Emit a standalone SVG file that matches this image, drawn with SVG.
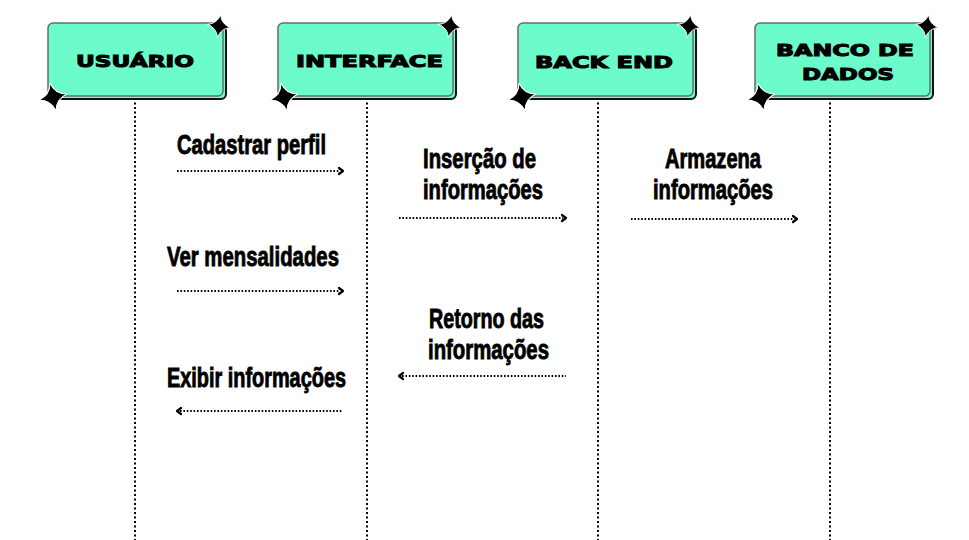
<svg xmlns="http://www.w3.org/2000/svg" width="969" height="540" viewBox="0 0 969 540">
<style>
.bg{fill:#6cfccb;stroke:#111;stroke-width:2}
.fr{fill:#6cfccb;stroke:#6a6a6a;stroke-width:1.5}
.star{fill:#000;stroke:#fff;stroke-width:1}
.nt{font-family:"DejaVu Sans",sans-serif;font-weight:bold;font-size:15.5px;fill:#000;stroke:#000;stroke-width:1;text-anchor:middle}
.ml{font-family:"Liberation Sans",sans-serif;font-weight:bold;font-size:28px;fill:#000;stroke:#000;stroke-width:0.9}
.life{stroke:#000;stroke-width:2;stroke-dasharray:2 2.5;fill:none}
.msg{stroke:#000;stroke-width:2;stroke-dasharray:1.6 1.8;fill:none}
.head{stroke:#000;stroke-width:2.2;fill:none;stroke-linecap:round;stroke-linejoin:round}
</style>
<defs>
<path id="s" d="M0,-13 C1.5,-6 6,-1.5 13,0 C6,1.5 1.5,6 0,13 C-1.5,6 -6,1.5 -13,0 C-6,-1.5 -1.5,-6 0,-13Z"/>
</defs>
<rect width="969" height="540" fill="#fff"/>
<g id="connectors">
<line class="life" x1="135" y1="98" x2="135" y2="540"/>
<line class="life" x1="367" y1="98" x2="367" y2="540"/>
<line class="life" x1="598" y1="98" x2="598" y2="540"/>
<line class="life" x1="830" y1="98" x2="830" y2="540"/>
<line class="msg" x1="177" y1="171" x2="340" y2="171"/><path class="head" d="M339,168 L343,171 L339,174"/>
<line class="msg" x1="177" y1="291" x2="340" y2="291"/><path class="head" d="M339,288 L343,291 L339,294"/>
<line class="msg" x1="180" y1="411" x2="343" y2="411"/><path class="head" d="M181,408 L177,411 L181,414"/>
<line class="msg" x1="399" y1="218" x2="563" y2="218"/><path class="head" d="M562,215 L566,218 L562,221"/>
<line class="msg" x1="631" y1="219" x2="794" y2="219"/><path class="head" d="M793,216 L797,219 L793,222"/>
<line class="msg" x1="402" y1="376" x2="566" y2="376"/><path class="head" d="M403,373 L399,376 L403,379"/>
</g>
<g id="usuario">
<rect class="bg" x="51" y="26" width="175" height="73" rx="5"/>
<rect class="fr" x="48" y="23" width="175" height="73" rx="5"/>
<use href="#s" class="star" transform="translate(219,26) rotate(8) scale(0.9)"/>
<use href="#s" class="star" transform="translate(53,97) rotate(-12) scale(1.1)"/>
<text class="nt" x="135" y="67" textLength="118" lengthAdjust="spacingAndGlyphs">USUÁRIO</text>
</g>
<g id="interface">
<rect class="bg" x="281" y="26" width="175" height="73" rx="5"/>
<rect class="fr" x="278" y="23" width="175" height="73" rx="5"/>
<use href="#s" class="star" transform="translate(450,26) rotate(8) scale(0.9)"/>
<use href="#s" class="star" transform="translate(284,97) rotate(-12) scale(1.1)"/>
<text class="nt" x="369.5" y="67" textLength="147" lengthAdjust="spacingAndGlyphs">INTERFACE</text>
</g>
<g id="backend">
<rect class="bg" x="521" y="26" width="175" height="73" rx="5"/>
<rect class="fr" x="518" y="23" width="175" height="73" rx="5"/>
<use href="#s" class="star" transform="translate(689,26) rotate(8) scale(0.9)"/>
<use href="#s" class="star" transform="translate(522,97) rotate(-12) scale(1.1)"/>
<text class="nt" x="604" y="67.5" textLength="138" lengthAdjust="spacingAndGlyphs">BACK END</text>
</g>
<g id="banco">
<rect class="bg" x="758" y="26" width="175" height="73" rx="5"/>
<rect class="fr" x="755" y="23" width="175" height="73" rx="5"/>
<use href="#s" class="star" transform="translate(927,26) rotate(8) scale(0.9)"/>
<use href="#s" class="star" transform="translate(761,97) rotate(-12) scale(1.1)"/>
<text class="nt" x="845" y="56" textLength="138" lengthAdjust="spacingAndGlyphs">BANCO DE</text>
<text class="nt" x="848" y="80" textLength="92" lengthAdjust="spacingAndGlyphs">DADOS</text>
</g>
<g id="labels">
<text class="ml" x="177" y="154" textLength="149" lengthAdjust="spacingAndGlyphs">Cadastrar perfil</text>
<text class="ml" x="167" y="266" textLength="172" lengthAdjust="spacingAndGlyphs">Ver mensalidades</text>
<text class="ml" x="167" y="387" textLength="179" lengthAdjust="spacingAndGlyphs">Exibir informações</text>
<text class="ml" x="423" y="168" textLength="113" lengthAdjust="spacingAndGlyphs">Inserção de</text>
<text class="ml" x="423" y="199" textLength="120" lengthAdjust="spacingAndGlyphs">informações</text>
<text class="ml" x="665" y="168" textLength="96" lengthAdjust="spacingAndGlyphs">Armazena</text>
<text class="ml" x="653" y="199" textLength="120" lengthAdjust="spacingAndGlyphs">informações</text>
<text class="ml" x="429" y="328" textLength="115" lengthAdjust="spacingAndGlyphs">Retorno das</text>
<text class="ml" x="428" y="359" textLength="121" lengthAdjust="spacingAndGlyphs">informações</text>
</g>
</svg>
